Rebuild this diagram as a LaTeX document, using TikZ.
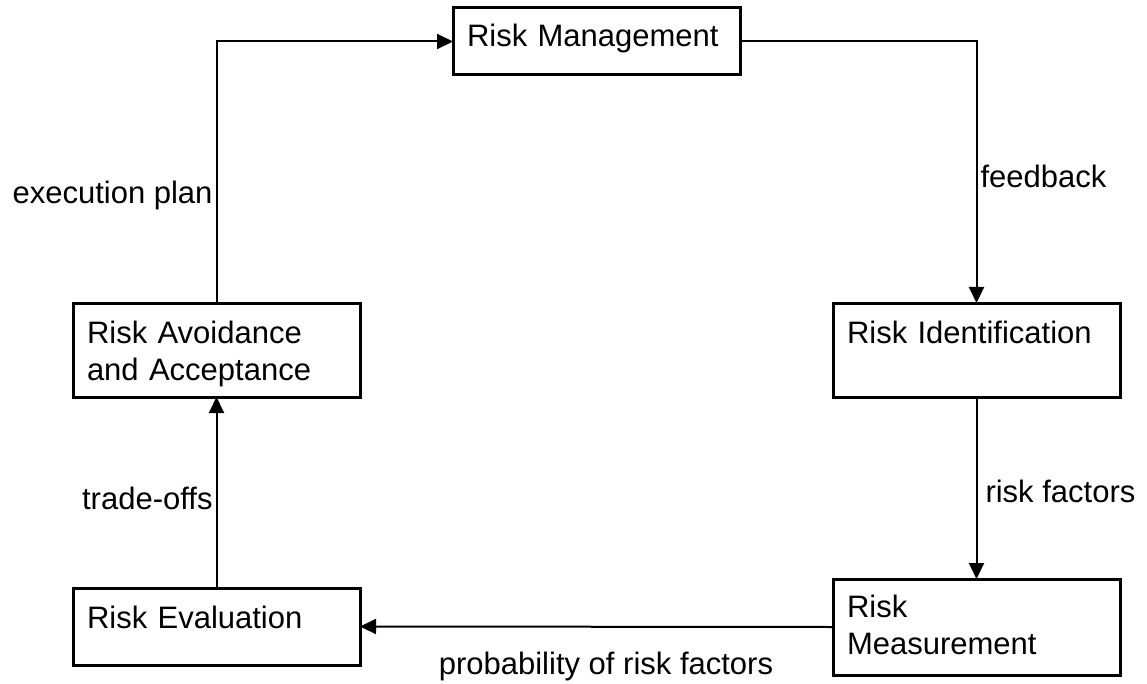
\documentclass[tikz,border=0pt]{standalone}
\usepackage{fontspec}
\setmainfont{Liberation Sans}
\usetikzlibrary{arrows.meta}

\begin{document}
\begin{tikzpicture}[
  x=1pt, y=-1pt,
  font=\fontsize{31}{37}\selectfont,
  stage/.style={draw, line width=3pt, anchor=north west, align=left,
                text width=259pt, inner xsep=14pt, inner ysep=0pt, outer sep=0pt,
                text height=40pt},
  flow/.style={-{Triangle[length=16pt,width=15pt]}, line width=2pt},
  lbl/.style={inner sep=0pt},
]
\useasboundingbox (0,0) rectangle (1147,684);
\def\lx{73} \def\rx{833}
\node[stage, text height=39pt, text depth=28pt] (mgmt) at (453,8) {Risk Management};
\node[stage, text depth=54pt] (ident) at (\rx,303) {Risk Identification};
\node[stage, text height=38pt, text depth=58pt] (meas) at (\rx,579) {Risk\\Measurement};
\node[stage, text depth=37pt] (eval) at (\lx,588) {Risk Evaluation};
\node[stage, text depth=54pt] (avoid) at (\lx,303) {Risk Avoidance\\and Acceptance};
\draw[flow] (mgmt.east) -| node[lbl, anchor=base west, pos=0.78, xshift=3pt] {feedback} (ident.north);
\draw[flow] (ident.south) -- node[lbl, anchor=base west, pos=0.58, xshift=8pt] {risk factors} (meas.north);
\draw[flow] (meas.west) -- node[lbl, anchor=base, pos=0.48, yshift=-48pt] {probability of risk factors} (eval.east);
\draw[flow] (eval.north) -- node[lbl, anchor=base east, pos=0.41, xshift=-3pt] {trade-offs} (avoid.south);
\draw[flow] (avoid.north) |- node[lbl, anchor=base east, pos=0.19, xshift=-3pt] {execution plan} (mgmt.west);
\end{tikzpicture}
\end{document}
